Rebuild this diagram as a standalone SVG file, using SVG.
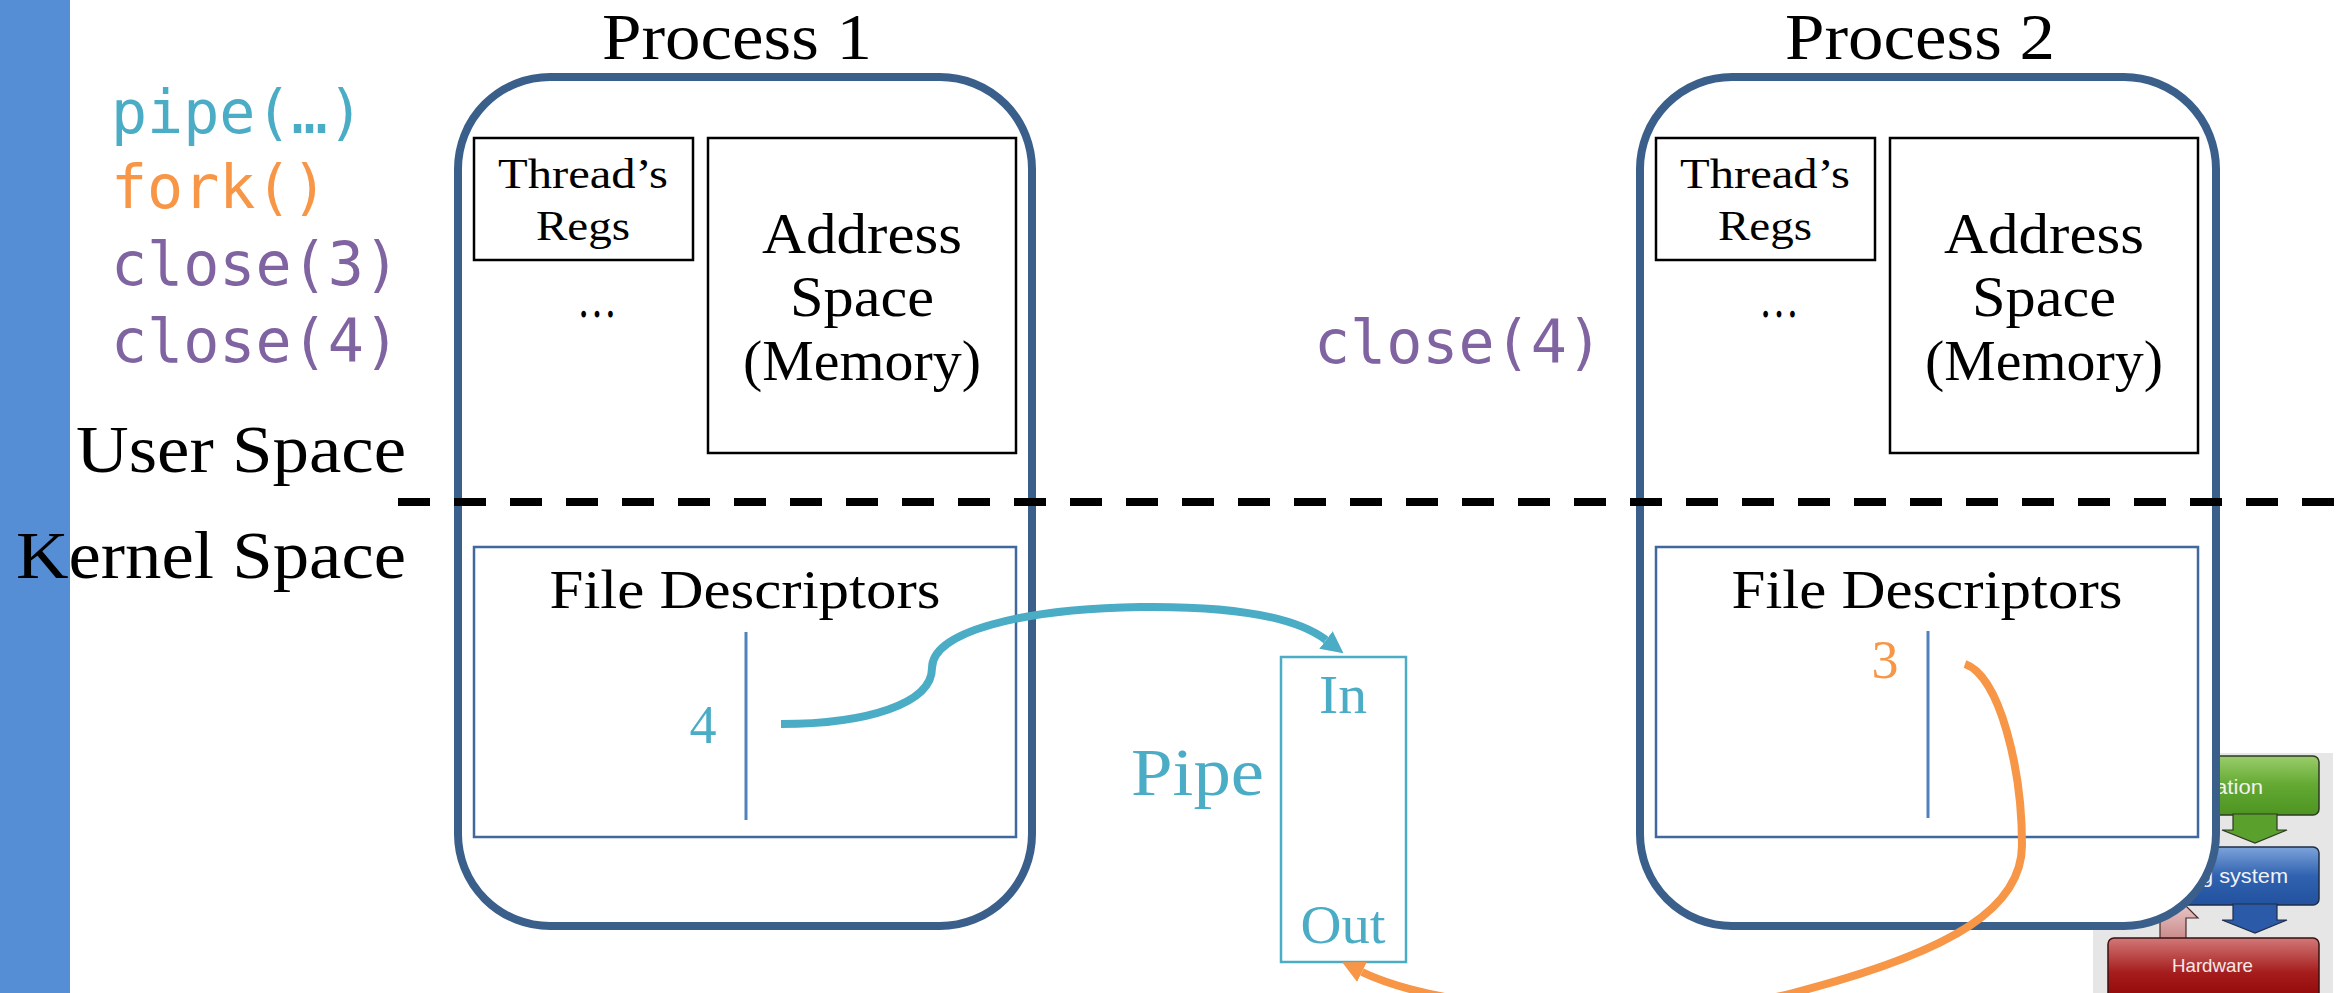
<svg xmlns="http://www.w3.org/2000/svg" width="2343" height="993" viewBox="0 0 2343 993">
  <defs>
    <style>
      .serif { font-family: "Liberation Serif", "Times New Roman", serif; fill: #000; }
      .mono { font-family: "DejaVu Sans Mono", "Liberation Mono", monospace; font-size: 60px; }
      .sans { font-family: "Liberation Sans", Arial, sans-serif; }
      .proc { fill: #fff; stroke: #3A5F8B; stroke-width: 8; }
      .box { fill: #fff; stroke: #000; stroke-width: 2.5; }
      .fdbox { fill: #fff; stroke: #41689C; stroke-width: 2.5; }
      .fdline { stroke: #4F81BD; stroke-width: 3; }
      .teal { fill: #4BACC6; }
      .orange { fill: #F79646; }
      .purple { fill: #8064A2; }
      .ptitle { font-size: 66px; }
      .title { font-size: 68px; }
      .regs { font-size: 42px; }
      .addr { font-size: 57px; }
      .fd { font-size: 54px; }
      .mid { text-anchor: middle; }
      .end { text-anchor: end; }
    </style>
    <marker id="arrowTeal" viewBox="0 0 22 22" refX="0" refY="11" markerWidth="22" markerHeight="22" markerUnits="userSpaceOnUse" orient="auto">
      <path d="M0,0 L22,11 L0,22 Z" fill="#4BACC6"/>
    </marker>
    <marker id="arrowOrange" viewBox="0 0 22 22" refX="0" refY="11" markerWidth="22" markerHeight="22" markerUnits="userSpaceOnUse" orient="auto">
      <path d="M0,0 L22,11 L0,22 Z" fill="#F79646"/>
    </marker>
    <linearGradient id="gGreen" x1="0" y1="0" x2="0" y2="1">
      <stop offset="0" stop-color="#9ACD6A"/>
      <stop offset="0.5" stop-color="#62A832"/>
      <stop offset="1" stop-color="#4E9422"/>
    </linearGradient>
    <linearGradient id="gBlue" x1="0" y1="0" x2="0" y2="1">
      <stop offset="0" stop-color="#7DA3DA"/>
      <stop offset="0.5" stop-color="#2F62B0"/>
      <stop offset="1" stop-color="#23529E"/>
    </linearGradient>
    <linearGradient id="gRed" x1="0" y1="0" x2="0" y2="1">
      <stop offset="0" stop-color="#D27878"/>
      <stop offset="0.5" stop-color="#A51C1C"/>
      <stop offset="1" stop-color="#8A0000"/>
    </linearGradient>
    <linearGradient id="gPink" x1="0" y1="0" x2="0" y2="1">
      <stop offset="0" stop-color="#F4DADA"/>
      <stop offset="1" stop-color="#C98A8A"/>
    </linearGradient>
  </defs>

  <rect x="0" y="0" width="2343" height="993" fill="#fff"/>

  <!-- left accent bar -->
  <rect x="0" y="0" width="70" height="993" fill="#558ED5"/>

  <!-- layered system picture, bottom right -->
  <g id="os-stack">
    <rect x="2093" y="753" width="240" height="240" fill="#E6E6E6"/>
    <rect x="2108" y="756" width="211" height="59" rx="6" fill="url(#gGreen)" stroke="#2E3A22" stroke-width="1.5"/>
    <path d="M2233,814 L2277,814 L2277,830 L2287,830 L2255,843 L2222,830 L2233,830 Z" fill="#5AA02C" stroke="#2E3A22" stroke-width="1.2"/>
    <rect x="2108" y="847" width="211" height="58" rx="6" fill="url(#gBlue)" stroke="#1E2E48" stroke-width="1.5"/>
    <path d="M2233,904 L2277,904 L2277,920 L2287,920 L2255,933 L2222,920 L2233,920 Z" fill="#2A5AA8" stroke="#1E2E48" stroke-width="1.2"/>
    <path d="M2160,939 L2160,918 L2148,918 L2173,893 L2198,918 L2186,918 L2186,939 Z" fill="url(#gPink)" stroke="#4A2A2A" stroke-width="1.2"/>
    <rect x="2108" y="938" width="211" height="70" rx="6" fill="url(#gRed)" stroke="#3A1010" stroke-width="1.5"/>
    <text class="sans" x="2215" y="794" font-size="20" fill="#F2F2F2" textLength="48" lengthAdjust="spacingAndGlyphs">ation</text>
    <text class="sans" x="2201" y="883" font-size="20" fill="#F2F2F2" textLength="87" lengthAdjust="spacingAndGlyphs">g system</text>
    <text class="sans" x="2172" y="972" font-size="19" fill="#F6E8E8" textLength="81" lengthAdjust="spacingAndGlyphs">Hardware</text>
  </g>

  <!-- system calls run by the program -->
  <g id="code-calls">
    <text class="mono teal" x="111" y="133">pipe(…)</text>
    <text class="mono orange" x="111" y="208">fork()</text>
    <text class="mono purple" x="111" y="285">close(3)</text>
    <text class="mono purple" x="111" y="362">close(4)</text>
    <text class="mono purple" x="1314" y="363">close(4)</text>
  </g>

  <!-- process 1 -->
  <g id="process-1">
    <text class="serif ptitle mid" x="737" y="59" textLength="270" lengthAdjust="spacingAndGlyphs">Process 1</text>
    <rect class="proc" x="458" y="77" width="574" height="849" rx="92" ry="92"/>
    <rect class="box" x="474" y="138" width="219" height="122"/>
    <text class="serif regs mid" x="583" y="188" textLength="170" lengthAdjust="spacingAndGlyphs">Thread’s</text>
    <text class="serif regs mid" x="583" y="240" textLength="94" lengthAdjust="spacingAndGlyphs">Regs</text>
    <text class="serif addr mid" x="597" y="317" textLength="40" lengthAdjust="spacingAndGlyphs">…</text>
    <rect class="box" x="708" y="138" width="308" height="315"/>
    <text class="serif addr mid" x="862" y="253" textLength="200" lengthAdjust="spacingAndGlyphs">Address</text>
    <text class="serif addr mid" x="862" y="316" textLength="144" lengthAdjust="spacingAndGlyphs">Space</text>
    <text class="serif addr mid" x="862" y="380" textLength="238" lengthAdjust="spacingAndGlyphs">(Memory)</text>
    <rect class="fdbox" x="474" y="547" width="542" height="290"/>
    <text class="serif fd mid" x="745" y="608" textLength="391" lengthAdjust="spacingAndGlyphs">File Descriptors</text>
    <line class="fdline" x1="746" y1="632" x2="746" y2="820"/>
    <text class="serif fd mid teal" x="703" y="743">4</text>
  </g>

  <!-- process 2 -->
  <g id="process-2">
    <text class="serif ptitle mid" x="1920" y="59" textLength="270" lengthAdjust="spacingAndGlyphs">Process 2</text>
    <rect class="proc" x="1640" y="77" width="576" height="849" rx="92" ry="92"/>
    <rect class="box" x="1656" y="138" width="219" height="122"/>
    <text class="serif regs mid" x="1765" y="188" textLength="170" lengthAdjust="spacingAndGlyphs">Thread’s</text>
    <text class="serif regs mid" x="1765" y="240" textLength="94" lengthAdjust="spacingAndGlyphs">Regs</text>
    <text class="serif addr mid" x="1779" y="317" textLength="40" lengthAdjust="spacingAndGlyphs">…</text>
    <rect class="box" x="1890" y="138" width="308" height="315"/>
    <text class="serif addr mid" x="2044" y="253" textLength="200" lengthAdjust="spacingAndGlyphs">Address</text>
    <text class="serif addr mid" x="2044" y="316" textLength="144" lengthAdjust="spacingAndGlyphs">Space</text>
    <text class="serif addr mid" x="2044" y="380" textLength="238" lengthAdjust="spacingAndGlyphs">(Memory)</text>
    <rect class="fdbox" x="1656" y="547" width="542" height="290"/>
    <text class="serif fd mid" x="1927" y="608" textLength="391" lengthAdjust="spacingAndGlyphs">File Descriptors</text>
    <line class="fdline" x1="1928" y1="631" x2="1928" y2="818"/>
    <text class="serif fd mid orange" x="1885" y="678">3</text>
  </g>

  <!-- user / kernel boundary -->
  <g id="boundary">
    <line x1="398" y1="502" x2="2343" y2="502" stroke="#000" stroke-width="8" stroke-dasharray="32 24"/>
    <text class="serif title end" x="406" y="472" textLength="330" lengthAdjust="spacingAndGlyphs">User Space</text>
    <text class="serif title end" x="406" y="578" textLength="390" lengthAdjust="spacingAndGlyphs">Kernel Space</text>
  </g>

  <!-- kernel pipe -->
  <g id="pipe">
    <text class="serif title teal" x="1131" y="795" textLength="133" lengthAdjust="spacingAndGlyphs">Pipe</text>
    <rect x="1281" y="657" width="125" height="305" fill="#fff" stroke="#4BACC6" stroke-width="2.5"/>
    <text class="serif fd mid teal" x="1343" y="713" textLength="48" lengthAdjust="spacingAndGlyphs">In</text>
    <text class="serif fd mid teal" x="1343" y="943" textLength="85" lengthAdjust="spacingAndGlyphs">Out</text>
  </g>

  <!-- descriptor to pipe-end connectors -->
  <g id="connectors" fill="none" stroke-width="8">
    <path d="M781,724 C866,724 932,704 932,668 C932,632 1020,609 1140,607 C1220,606 1292,614 1326,640" stroke="#4BACC6" marker-end="url(#arrowTeal)"/>
    <path d="M1965,664 C2000,676 2022,770 2022,845 C2022,905 1960,950 1793,993 C1650,1030 1440,1010 1362,972" stroke="#F79646" marker-end="url(#arrowOrange)"/>
  </g>
</svg>
